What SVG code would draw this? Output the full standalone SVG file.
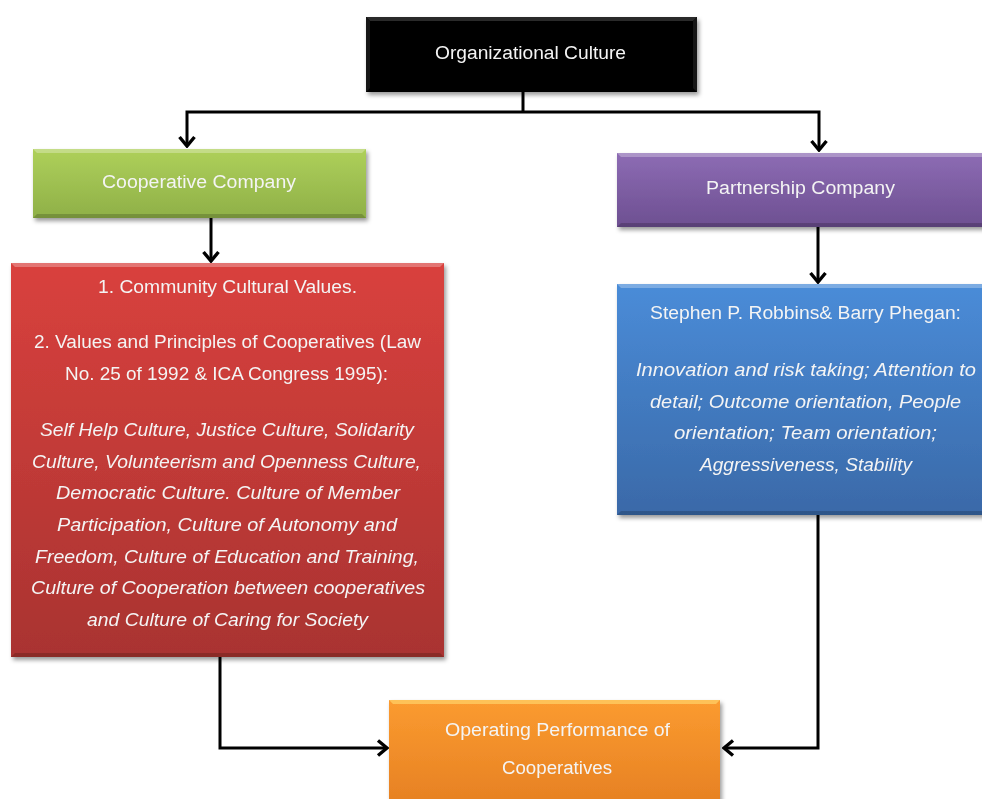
<svg xmlns="http://www.w3.org/2000/svg" width="982" height="799" viewBox="0 0 982 799">
<style>
  .t{font-family:"Liberation Sans",Arial,sans-serif;font-size:18px;fill:#f4f4f4;text-anchor:middle}
  .i{font-style:italic}
  .c{fill:none;stroke:#000;stroke-width:3;stroke-linejoin:miter}
  .hl{fill:#fff;opacity:0.28}
  .sh{fill:#000;opacity:0.18}
</style>
<defs>
  <filter id="ds" x="-10%" y="-10%" width="130%" height="140%">
    <feDropShadow dx="2" dy="3" stdDeviation="2" flood-color="#000" flood-opacity="0.4"/>
  </filter>
  <linearGradient id="gGreen" x1="0" y1="0" x2="0" y2="1"><stop offset="0" stop-color="#aed05a"/><stop offset="1" stop-color="#8fb048"/></linearGradient>
  <linearGradient id="gPurple" x1="0" y1="0" x2="0" y2="1"><stop offset="0" stop-color="#8d6cb4"/><stop offset="1" stop-color="#6d4f91"/></linearGradient>
  <linearGradient id="gRed" x1="0" y1="0" x2="0" y2="1"><stop offset="0" stop-color="#d9413d"/><stop offset="1" stop-color="#a93331"/></linearGradient>
  <linearGradient id="gBlue" x1="0" y1="0" x2="0" y2="1"><stop offset="0" stop-color="#4a8cd8"/><stop offset="1" stop-color="#3a69a8"/></linearGradient>
  <linearGradient id="gOrange" x1="0" y1="0" x2="0" y2="1"><stop offset="0" stop-color="#fb9b30"/><stop offset="1" stop-color="#e57f22"/></linearGradient>
  <marker id="ah" markerUnits="userSpaceOnUse" viewBox="-14 -11 16 22" refX="0" refY="0" markerWidth="16" markerHeight="22" orient="auto">
    <path d="M-9,-7.5 L0,0 L-9,7.5" fill="none" stroke="#000" stroke-width="3.4"/>
  </marker>
</defs>

<g id="connectors">
  <polyline class="c" points="523,92 523,112"/>
  <polyline class="c" points="523,112 187,112 187,146" marker-end="url(#ah)"/>
  <polyline class="c" points="523,112 819,112 819,150" marker-end="url(#ah)"/>
  <polyline class="c" points="211,218 211,261" marker-end="url(#ah)"/>
  <polyline class="c" points="818,227 818,282" marker-end="url(#ah)"/>
  <polyline class="c" points="220,656 220,748 387,748" marker-end="url(#ah)"/>
  <polyline class="c" points="818,515 818,748 724,748" marker-end="url(#ah)"/>
</g>

<g id="organizational-culture" filter="url(#ds)">
  <rect x="366" y="17" width="331" height="75" fill="#000"/>
  <polygon points="366,17 697,17 693,21 370,21" fill="#2a2a2a"/>
  <polygon points="366,17 370,21 370,88 366,92" fill="#151515"/>
  <polygon points="697,17 693,21 693,88 697,92" fill="#151515"/>
  <text class="t" x="530.5" y="59" textLength="191" lengthAdjust="spacingAndGlyphs">Organizational Culture</text>
</g>

<g id="cooperative-company" filter="url(#ds)">
  <rect x="33" y="149" width="333" height="69" fill="url(#gGreen)"/>
  <polygon class="hl" points="33,149 366,149 362,153 37,153"/>
  <polygon class="sh" points="33,218 366,218 362,214 37,214"/>
  <text class="t" x="199" y="188" textLength="194" lengthAdjust="spacingAndGlyphs">Cooperative Company</text>
</g>

<g id="partnership-company" filter="url(#ds)">
  <rect x="617" y="153" width="380" height="74" fill="url(#gPurple)"/>
  <polygon class="hl" points="617,153 997,153 993,157 621,157"/>
  <polygon class="sh" points="617,227 997,227 993,223 621,223"/>
  <text class="t" x="800.5" y="194" textLength="189" lengthAdjust="spacingAndGlyphs">Partnership Company</text>
</g>

<g id="cooperative-values" filter="url(#ds)">
  <rect x="11" y="263" width="433" height="394" fill="url(#gRed)"/>
  <polygon class="hl" points="11,263 444,263 440,267 15,267"/>
  <polygon class="sh" points="11,657 444,657 440,653 15,653"/>
  <text class="t" x="227.5" y="293" textLength="259" lengthAdjust="spacingAndGlyphs">1. Community Cultural Values.</text>
  <text class="t" x="227.5" y="348" textLength="387" lengthAdjust="spacingAndGlyphs">2. Values and Principles of Cooperatives (Law</text>
  <text class="t" x="226.5" y="380" textLength="323" lengthAdjust="spacingAndGlyphs">No. 25 of 1992 &amp; ICA Congress 1995):</text>
  <text class="t i" x="227" y="436" textLength="374" lengthAdjust="spacingAndGlyphs">Self Help Culture, Justice Culture, Solidarity</text>
  <text class="t i" x="226.5" y="468" textLength="389" lengthAdjust="spacingAndGlyphs">Culture, Volunteerism and Openness Culture,</text>
  <text class="t i" x="228" y="499" textLength="344" lengthAdjust="spacingAndGlyphs">Democratic Culture. Culture of Member</text>
  <text class="t i" x="227" y="531" textLength="340" lengthAdjust="spacingAndGlyphs">Participation, Culture of Autonomy and</text>
  <text class="t i" x="227" y="563" textLength="384" lengthAdjust="spacingAndGlyphs">Freedom, Culture of Education and Training,</text>
  <text class="t i" x="228" y="594" textLength="394" lengthAdjust="spacingAndGlyphs">Culture of Cooperation between cooperatives</text>
  <text class="t i" x="227.5" y="626" textLength="281" lengthAdjust="spacingAndGlyphs">and Culture of Caring for Society</text>
</g>

<g id="robbins-phegan" filter="url(#ds)">
  <rect x="617" y="284" width="380" height="231" fill="url(#gBlue)"/>
  <polygon class="hl" points="617,284 997,284 993,288 621,288"/>
  <polygon class="sh" points="617,515 997,515 993,511 621,511"/>
  <text class="t" x="805.5" y="319" textLength="311" lengthAdjust="spacingAndGlyphs">Stephen P. Robbins&amp; Barry Phegan:</text>
  <text class="t i" x="806" y="376" textLength="340" lengthAdjust="spacingAndGlyphs">Innovation and risk taking; Attention to</text>
  <text class="t i" x="805.5" y="408" textLength="311" lengthAdjust="spacingAndGlyphs">detail; Outcome orientation, People</text>
  <text class="t i" x="805.5" y="439" textLength="263" lengthAdjust="spacingAndGlyphs">orientation; Team orientation;</text>
  <text class="t i" x="806" y="471" textLength="212" lengthAdjust="spacingAndGlyphs">Aggressiveness, Stability</text>
</g>

<g id="operating-performance" filter="url(#ds)">
  <rect x="389" y="700" width="331" height="110" fill="url(#gOrange)"/>
  <polygon points="389,700 720,700 716,704 393,704" fill="#ffd36a" opacity="0.7"/>
  <text class="t" x="557.5" y="736" textLength="225" lengthAdjust="spacingAndGlyphs">Operating Performance of</text>
  <text class="t" x="557" y="774" textLength="110" lengthAdjust="spacingAndGlyphs">Cooperatives</text>
</g>
</svg>
